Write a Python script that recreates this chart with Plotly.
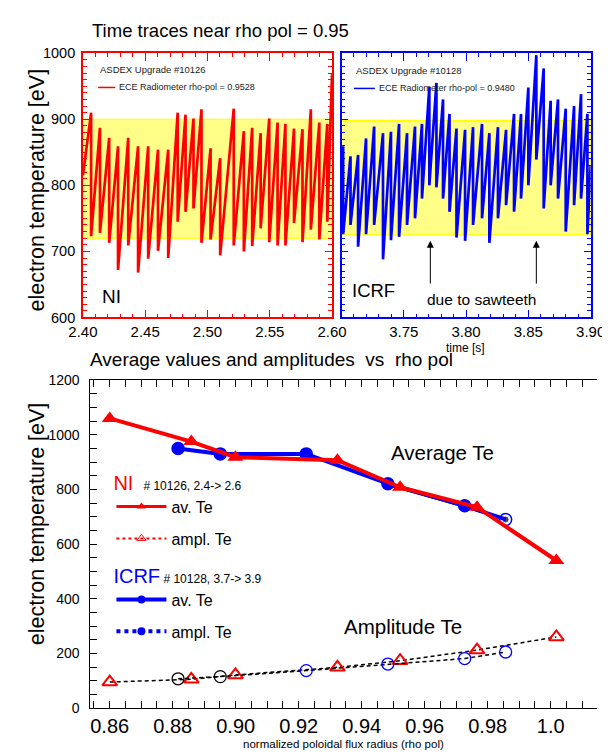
import plotly.graph_objects as go

FONT = "Liberation Sans, Arial, sans-serif"
W, H = 610, 755

# --- time traces near rho pol = 0.95 ---
# sawtooth crashes: time of crash, Te just before and just after the crash
ni_t_start, ni_te_start = 2.40, 815
ni_t_end, ni_te_end = 2.60, 968
ni_crash_t = [2.4066, 2.4137, 2.4211, 2.4282, 2.4364, 2.4443, 2.4524, 2.4603, 2.4685,
              2.4761, 2.4824, 2.4888, 2.4952, 2.5025, 2.5102, 2.5211, 2.5292, 2.5359,
              2.5427, 2.5496, 2.5563, 2.5626, 2.5695, 2.5763, 2.5830, 2.5898, 2.5962]
ni_te_peak = [910, 887, 872, 859, 872, 859, 859, 854, 854, 910, 907, 901, 915, 856,
              841, 916, 882, 887, 879, 901, 895, 893, 886, 885, 915, 895, 893]
ni_te_trough = [723, 728, 713, 672, 709, 668, 689, 701, 690, 745, 760, 765, 713, 718,
                694, 709, 700, 708, 735, 714, 709, 709, 743, 714, 733, 718, 745]
ni_band = [720, 900]

icrf_t_start, icrf_te_start = 3.70, 819
icrf_t_end, icrf_te_end = 3.90, 829
icrf_crash_t = [3.7013, 3.7072, 3.7133, 3.7197, 3.7262, 3.7333, 3.7397, 3.7462, 3.7526,
                3.7590, 3.7646, 3.7705, 3.7762, 3.7815, 3.7867, 3.7923, 3.7992, 3.8056,
                3.8128, 3.8187, 3.8256, 3.8321, 3.8385, 3.8441, 3.8500, 3.8564, 3.8623,
                3.8679, 3.8738, 3.8800, 3.8867, 3.8923, 3.8974]
icrf_te_peak = [859, 844, 846, 871, 889, 879, 881, 893, 879, 889, 893, 949, 955, 930,
                908, 886, 884, 888, 893, 879, 888, 884, 908, 908, 948, 997, 977, 928,
                930, 916, 920, 938, 908]
icrf_te_trough = [726, 740, 707, 726, 740, 688, 717, 722, 740, 750, 780, 800, 797, 780,
                  760, 721, 716, 740, 750, 713, 750, 770, 760, 780, 800, 839, 765, 800,
                  780, 730, 770, 780, 726]
icrf_band = [725, 898]
sawtooth_arrow_t = [3.7713, 3.8564]

# --- average values and amplitudes vs rho pol ---
rho_ni = [0.8600, 0.8859, 0.8999, 0.9323, 0.9522, 0.9766, 1.0018]
te_avg_ni = [1060, 975, 918, 907, 808, 735, 540]
te_amp_ni = [95, 105, 121, 149, 173, 212, 260]

rho_icrf = [0.8817, 0.8951, 0.9224, 0.9483, 0.9727, 0.9857]
te_avg_icrf = [950, 930, 930, 821, 740, 690]
te_amp_icrf = [107, 115, 137, 161, 181, 205]
amp_icrf_colors = ['black', 'black', 'blue', 'blue', 'blue', 'blue']

rho_black = [0.9483, 0.9727, 0.9857]
te_black = [816, 736, 690]

x_ticks = [0.86, 0.88, 0.90, 0.92, 0.94, 0.96, 0.98, 1.00]
x_tick_text = ['0.86', '0.88', '0.90', '0.92', '0.94', '0.96', '0.98', '1.0']


def sawtooth(t0, v0, crash_t, peak, trough, t1, v1):
    xs, ys = [t0], [v0]
    for t, p, q in zip(crash_t, peak, trough):
        xs += [t, t]
        ys += [p, q]
    xs.append(t1)
    ys.append(v1)
    return xs, ys


def dom_x(a, b):
    return [a / W, b / W]


def dom_y(top, bottom):
    return [1 - bottom / H, 1 - top / H]


def text(s, x, y, size, color='black', xanchor='center', **kw):
    # x, y in pixels from the top-left corner of the page
    fig.add_annotation(text=s, xref='paper', yref='paper', x=x / W, y=1 - y / H,
                       xanchor=xanchor, yanchor='middle', showarrow=False,
                       font=dict(family=FONT, size=size, color=color), **kw)


fig = go.Figure()

# top left: NI
nx, ny = sawtooth(ni_t_start, ni_te_start, ni_crash_t, ni_te_peak, ni_te_trough,
                  ni_t_end, ni_te_end)
fig.add_trace(go.Scatter(x=nx, y=ny, mode='lines', line=dict(color='red', width=2.7),
                         xaxis='x', yaxis='y', showlegend=False))

# top right: ICRF
ix, iy = sawtooth(icrf_t_start, icrf_te_start, icrf_crash_t, icrf_te_peak, icrf_te_trough,
                  icrf_t_end, icrf_te_end)
fig.add_trace(go.Scatter(x=ix, y=iy, mode='lines', line=dict(color='blue', width=2.7),
                         xaxis='x2', yaxis='y2', showlegend=False))

# bottom: amplitudes (black dashed)
fig.add_trace(go.Scatter(x=rho_ni, y=te_amp_ni, mode='lines+markers',
                         line=dict(color='black', width=1.5, dash='4px,3px'),
                         marker=dict(symbol='triangle-up-open', size=13, color='red',
                                     line=dict(width=2, color='red')),
                         xaxis='x3', yaxis='y3', showlegend=False))
fig.add_trace(go.Scatter(x=rho_icrf, y=te_amp_icrf, mode='lines+markers',
                         line=dict(color='black', width=1.5, dash='4px,3px'),
                         marker=dict(symbol='circle-open', size=12, color=amp_icrf_colors,
                                     line=dict(width=1.3, color=amp_icrf_colors)),
                         xaxis='x3', yaxis='y3', showlegend=False))

# bottom: averages
fig.add_trace(go.Scatter(x=rho_black, y=te_black, mode='lines+markers',
                         line=dict(color='black', width=2),
                         marker=dict(size=[0, 0, 7], color='black'),
                         xaxis='x3', yaxis='y3', showlegend=False))
fig.add_trace(go.Scatter(x=rho_icrf, y=te_avg_icrf, mode='lines+markers',
                         line=dict(color='blue', width=4),
                         marker=dict(symbol=['circle'] * 5 + ['circle-open'], size=12,
                                     color='blue', line=dict(width=1.5, color='blue')),
                         xaxis='x3', yaxis='y3', showlegend=False))
fig.add_trace(go.Scatter(x=rho_ni, y=te_avg_ni, mode='lines+markers',
                         line=dict(color='red', width=4),
                         marker=dict(symbol='triangle-up', size=14, color='red'),
                         xaxis='x3', yaxis='y3', showlegend=False))

# legend entries for the bottom panel
legend_rows = [
    ('av. Te', 'red', 'solid', 3, 'triangle-up', 'legend3', 'a'),
    ('ampl. Te', 'red', 'dot', 2, 'triangle-up-open', 'legend3', 'b'),
    ('av. Te', 'blue', 'solid', 4, 'circle', 'legend4', 'c'),
    ('ampl. Te', 'blue', 'dot', 4, 'circle', 'legend4', 'd'),
]
for name, col, dash, lw, sym, leg, grp in legend_rows:
    fig.add_trace(go.Scatter(x=[None], y=[None], mode='lines+markers', name=name,
                             line=dict(color=col, width=lw, dash=dash),
                             marker=dict(symbol=sym, size=8, color=col),
                             xaxis='x3', yaxis='y3', legend=leg, legendgroup=grp))

# yellow bands
fig.add_shape(type='rect', xref='x domain', yref='y', x0=0, x1=1, y0=ni_band[0], y1=ni_band[1],
              fillcolor='#ffff88', line=dict(color='#ffff00', width=1.2), layer='below')
fig.add_shape(type='rect', xref='x2 domain', yref='y2', x0=0, x1=1, y0=icrf_band[0],
              y1=icrf_band[1], fillcolor='#ffff88', line=dict(color='#ffff00', width=1.2),
              layer='below')

top_tick_font = dict(family=FONT, size=15, color='black')
fig.update_layout(
    width=W, height=H, autosize=False,
    margin=dict(l=0, r=0, t=0, b=0),
    paper_bgcolor='white', plot_bgcolor='white',
    xaxis=dict(domain=dom_x(63, 325), anchor='y', range=[2.40, 2.60],
               tickvals=[2.40, 2.45, 2.50, 2.55, 2.60], tickformat='.2f',
               ticks='inside', ticklen=8, tickcolor='red', showline=True, linecolor='red',
               linewidth=1.5, mirror='ticks', showgrid=False, zeroline=False,
               tickfont=top_tick_font,
               minor=dict(dtick=0.01, ticks='inside', ticklen=4, tickcolor='red')),
    yaxis=dict(domain=dom_y(38, 308), anchor='x', range=[600, 1000], dtick=100,
               ticks='inside', ticklen=7, tickcolor='red', showline=True, linecolor='red',
               linewidth=1.5, mirror='ticks', showgrid=False, zeroline=False,
               tickfont=dict(family=FONT, size=14.5, color='black'), ticklabelstandoff=3,
               minor=dict(dtick=10, ticks='inside', ticklen=4, tickcolor='red')),
    xaxis2=dict(domain=dom_x(335, 597), anchor='y2', range=[3.70, 3.90],
                tickvals=[3.75, 3.80, 3.85, 3.90], tickformat='.2f',
                ticks='inside', ticklen=8, tickcolor='blue', showline=True, linecolor='blue',
                linewidth=1.5, mirror='ticks', showgrid=False, zeroline=False,
                tickfont=top_tick_font,
                minor=dict(dtick=0.01, ticks='inside', ticklen=4, tickcolor='blue')),
    yaxis2=dict(domain=dom_y(38, 308), anchor='x2', range=[600, 1000], dtick=100,
                ticks='inside', ticklen=7, tickcolor='blue', showline=True, linecolor='blue',
                linewidth=1.5, mirror='ticks', showgrid=False, zeroline=False,
                showticklabels=False,
                minor=dict(dtick=10, ticks='inside', ticklen=4, tickcolor='blue')),
    xaxis3=dict(domain=dom_x(70, 604), anchor='y3', range=[0.8536, 1.0148],
                tickvals=x_ticks, ticktext=x_tick_text,
                ticks='inside', ticklen=7, tickcolor='black', showline=True,
                linecolor='black', linewidth=1.2, mirror='ticks', showgrid=False,
                zeroline=False, tickfont=dict(family=FONT, size=20, color='black'),
                title=dict(text='normalized poloidal flux radius (rho pol)', standoff=3,
                           font=dict(family=FONT, size=11.5, color='black')),
                minor=dict(dtick=0.005, ticks='inside', ticklen=7, tickcolor='black')),
    yaxis3=dict(domain=dom_y(372, 707), anchor='x3', range=[0, 1200], dtick=200,
                ticks='inside', ticklen=7, tickcolor='black', showline=True,
                linecolor='black', linewidth=1.2, showgrid=False, zeroline=False,
                tickfont=dict(family=FONT, size=14, color='black'), ticklabelstandoff=6,
                minor=dict(dtick=50, ticks='inside', ticklen=7, tickcolor='black')),
    yaxis4=dict(overlaying='y3', anchor='x3', side='right', range=[0, 1200], dtick=50,
                ticks='inside', ticklen=7, tickcolor='#aaaaaa', showline=True,
                linecolor='black', linewidth=1.2, showgrid=False, zeroline=False,
                showticklabels=False),
    legend3=dict(x=93 / W, y=1 - 468 / H, xanchor='left', yanchor='top',
                 bgcolor='rgba(0,0,0,0)', itemwidth=50, tracegroupgap=8,
                 title=dict(text='<span style="color:red;font-size:20px">NI</span>'
                                 '\u00a0\u00a0\u00a0# 10126, 2.4-> 2.6',
                            font=dict(family=FONT, size=12, color='black')),
                 font=dict(family=FONT, size=16, color='black')),
    legend4=dict(x=93 / W, y=1 - 563 / H, xanchor='left', yanchor='top',
                 bgcolor='rgba(0,0,0,0)', itemwidth=50, tracegroupgap=8,
                 title=dict(text='<span style="color:blue;font-size:20px">ICRF</span>'
                                 '\u00a0# 10128, 3.7-> 3.9',
                            font=dict(family=FONT, size=12, color='black')),
                 font=dict(family=FONT, size=16, color='black')),
)

# panel legends of the time traces
text('ASDEX Upgrade #10126', 79, 55, 9.5, color='#222222', xanchor='left')
text('ECE Radiometer rho-pol = 0.9528', 99, 73, 9, color='#222222', xanchor='left')
fig.add_shape(type='line', xref='paper', yref='paper', x0=79 / W, x1=97 / W,
              y0=1 - 73 / H, y1=1 - 73 / H, line=dict(color='red', width=1.5))
text('ASDEX Upgrade #10128', 348, 56, 9.5, color='#222222', xanchor='left')
text('ECE Radiometer rho-pol = 0.9480', 372, 74, 9, color='#222222', xanchor='left')
fig.add_shape(type='line', xref='paper', yref='paper', x0=348 / W, x1=370 / W,
              y0=1 - 74 / H, y1=1 - 74 / H, line=dict(color='blue', width=1.5))

# titles and labels
text('Time traces near rho pol = 0.95', 70, 15, 18.5, xanchor='left')
text('Average values and amplitudes\u00a0\u00a0vs\u00a0\u00a0rho pol', 68, 351, 19,
     xanchor='left')
text('time [s]', 465, 339, 12)
text('electron temperature [eV]', 15, 178, 21.5, textangle=-90)
text('electron temperature [eV]', 15, 519, 21.5, textangle=-90)

fig.add_annotation(text='NI', x=2.4229, y=631, xref='x', yref='y', showarrow=False,
                   font=dict(family=FONT, size=19, color='black'))
fig.add_annotation(text='ICRF', x=3.7256, y=641, xref='x2', yref='y2', showarrow=False,
                   font=dict(family=FONT, size=18.5, color='black'))
fig.add_annotation(text='due to sawteeth', x=3.8126, y=627, xref='x2', yref='y2',
                   showarrow=False, font=dict(family=FONT, size=15.5, color='black'))
for t in sawtooth_arrow_t:
    fig.add_annotation(text='', x=t, y=716, ax=t, ay=649, xref='x2', yref='y2',
                       axref='x2', ayref='y2', showarrow=True, arrowhead=2, arrowsize=1.4,
                       arrowwidth=1, arrowcolor='black')

fig.add_annotation(text='Average Te', x=0.9656, y=935, xref='x3', yref='y3', showarrow=False,
                   font=dict(family=FONT, size=20.5, color='black'))
fig.add_annotation(text='Amplitude Te', x=0.9532, y=297, xref='x3', yref='y3',
                   showarrow=False, font=dict(family=FONT, size=20.5, color='black'))

fig.write_html("out.html")
